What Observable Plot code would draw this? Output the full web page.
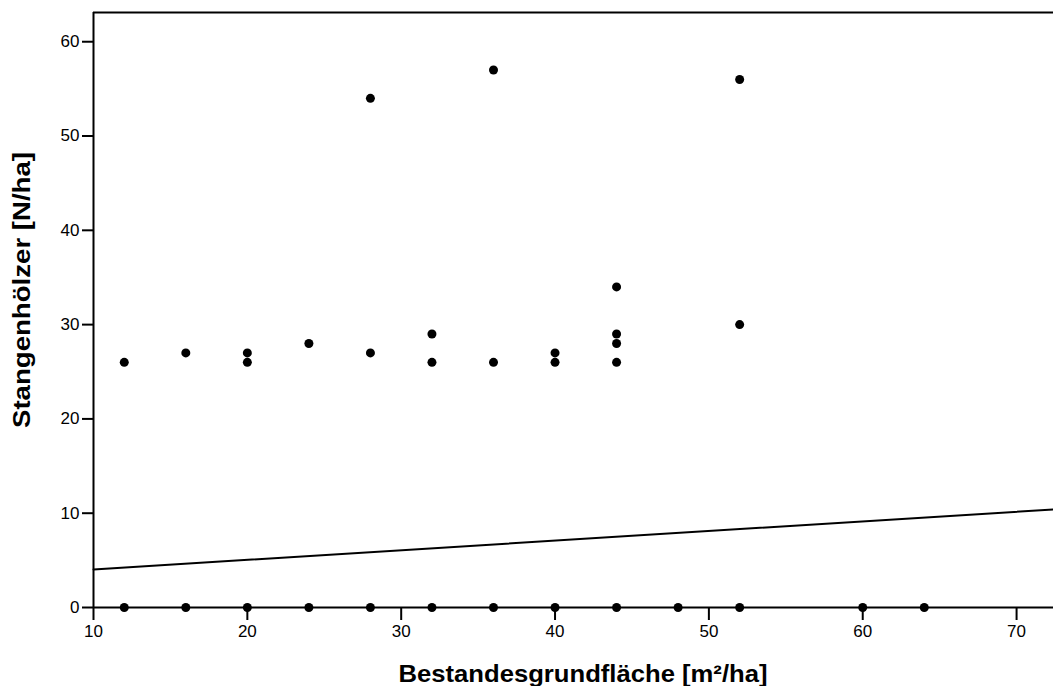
<!DOCTYPE html>
<html>
<head>
<meta charset="utf-8">
<script src="https://cdn.jsdelivr.net/npm/d3@7"></script>
<script src="https://cdn.jsdelivr.net/npm/@observablehq/plot@0.6"></script>
<style>
  html, body { margin: 0; padding: 0; background: #fff; }
</style>
</head>
<body>
<div id="chart"></div>
<script>
// Bestandesgrundfläche [m²/ha]
const xValues = [12,16,20,24,28,32,36,40,44,48,52,60,64,
                 12,16,20,20,24,28,28,32,32,36,36,40,40,44,44,44,44,52,52];
// Stangenhölzer [N/ha]
const yValues = [0,0,0,0,0,0,0,0,0,0,0,0,0,
                 26,27,27,26,28,27,54,29,26,26,57,27,26,34,29,28,26,30,56];
// Fit line endpoints
const fitX = [10, 72.4];
const fitY = [4.03, 10.4];
const xTicks = [10,20,30,40,50,60,70];
const yTicks = [0,10,20,30,40,50,60];
const xLabel = "Bestandesgrundfläche [m²/ha]";
const yLabel = "Stangenhölzer [N/ha]";

const points = xValues.map((x, i) => ({x, y: yValues[i]}));
const fit = fitX.map((x, i) => ({x, y: fitY[i]}));
const xDomain = [10, 72.4];
const yDomain = [0, 63.1];

const W = 1053, H = 686;
const FONT = "'Liberation Sans', Arial, sans-serif";
const svg = Plot.plot({
  width: W, height: H,
  marginLeft: 93, marginRight: 0, marginTop: 12, marginBottom: 79,
  style: {fontFamily: FONT, fontSize: "17px", color: "#000", background: "#fff"},
  x: {domain: xDomain, ticks: xTicks, label: null},
  y: {domain: yDomain, ticks: yTicks, label: null},
  marks: [
    Plot.axisX({ticks: xTicks, tickSize: 13, tickPadding: 4, strokeWidth: 2, fontSize: 17, label: null}),
    Plot.axisY({ticks: yTicks, tickSize: 11, tickPadding: 3, strokeWidth: 2, fontSize: 17, label: null}),
    Plot.ruleY([yDomain[1]], {stroke: "black", strokeWidth: 2}),
    Plot.ruleX([xDomain[0]], {stroke: "black", strokeWidth: 2}),
    Plot.ruleY([0], {stroke: "black", strokeWidth: 2}),
    Plot.line(fit, {x: "x", y: "y", stroke: "black", strokeWidth: 2}),
    Plot.dot(points, {x: "x", y: "y", r: 4.5, fill: "black", stroke: "none"})
  ]
});

const s = d3.select(svg);
s.append("text")
  .attr("x", 583).attr("y", 682)
  .attr("text-anchor", "middle")
  .attr("font-weight", "bold").attr("font-size", 24)
  .attr("font-family", FONT)
  .attr("textLength", 369).attr("lengthAdjust", "spacingAndGlyphs")
  .text(xLabel);
s.append("text")
  .attr("transform", "translate(30,290) rotate(-90)")
  .attr("text-anchor", "middle")
  .attr("font-weight", "bold").attr("font-size", 24)
  .attr("font-family", FONT)
  .attr("textLength", 276).attr("lengthAdjust", "spacingAndGlyphs")
  .text(yLabel);

document.getElementById("chart").appendChild(svg);
</script>
</body>
</html>
